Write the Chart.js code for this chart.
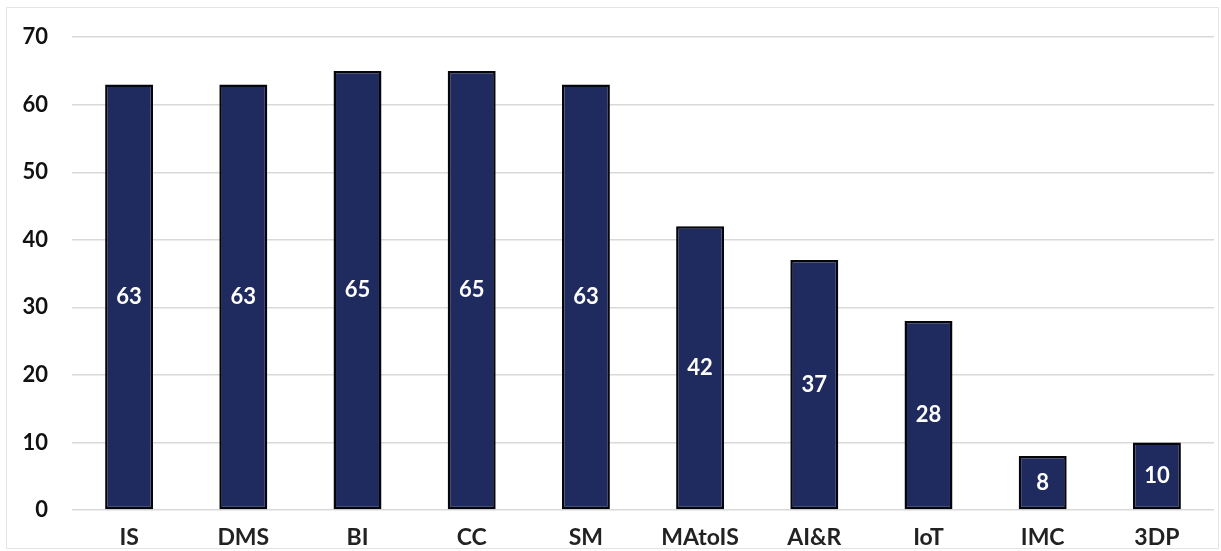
<!DOCTYPE html>
<html lang="en">
<head>
    <meta charset="UTF-8">
    <title>Bar chart</title>
    <style>
        html, body { margin: 0; padding: 0; background: #fff; }
        .wrap { position: relative; width: 1221px; height: 551px; }
        .frame { position: absolute; left: 6px; top: 7px; right: 2px; bottom: 2px; border: 1px solid #e4e4e4; pointer-events: none; }
    </style>
</head>
<body>
    <div class="wrap">
        <canvas id="myChart" width="1221" height="551"></canvas>
        <div class="frame"></div>
    </div>

    <script src="https://cdn.jsdelivr.net/npm/chart.js@4.4.0/dist/chart.umd.min.js"></script>
    <script>
        var categories = ['IS', 'DMS', 'BI', 'CC', 'SM', 'MAtoIS', 'AI&R', 'IoT', 'IMC', '3DP'];
        var values = [63, 63, 65, 65, 63, 42, 37, 28, 8, 10];
        var yTicks = [0, 10, 20, 30, 40, 50, 60, 70];

        var fontFamily = 'Lato, "Open Sans", sans-serif';

        // white value labels in the middle of each bar
        var barLabels = {
            id: 'barLabels',
            afterDatasetsDraw: function (chart) {
                var ctx = chart.ctx;
                var meta = chart.getDatasetMeta(0);
                ctx.save();
                ctx.fillStyle = '#ffffff';
                ctx.font = 'bold 22px ' + fontFamily;
                ctx.textAlign = 'center';
                ctx.textBaseline = 'middle';
                meta.data.forEach(function (bar, i) {
                    var mid = (bar.y + bar.base) / 2;
                    ctx.fillText(String(values[i]), bar.x, mid);
                });
                ctx.restore();
            }
        };

        function createChart() {
            var ctx = document.getElementById('myChart').getContext('2d');
            new Chart(ctx, {
                type: 'bar',
                data: {
                    labels: categories,
                    datasets: [{
                        data: values,
                        backgroundColor: '#1f2a5e',
                        borderColor: '#05050c',
                        borderWidth: 2.5,
                        borderSkipped: false,
                        barPercentage: 0.42,
                        categoryPercentage: 1.0
                    }]
                },
                options: {
                    responsive: false,
                    animation: false,
                    layout: { padding: { left: 10, right: 7, top: 17, bottom: 4 } },
                    plugins: {
                        legend: { display: false },
                        tooltip: { enabled: false }
                    },
                    scales: {
                        x: {
                            grid: { display: false },
                            border: { display: false },
                            ticks: {
                                color: '#222',
                                font: { family: fontFamily, size: 23, weight: 'bold' },
                                padding: 6
                            },
                            afterFit: function (scale) { scale.height = 37; }
                        },
                        y: {
                            min: 0,
                            max: 70,
                            afterBuildTicks: function (scale) {
                                scale.ticks = yTicks.map(function (v) { return { value: v }; });
                            },
                            grid: { color: '#d9d9d9', lineWidth: 1.5, drawTicks: false },
                            border: { display: false },
                            ticks: {
                                color: '#111',
                                font: { family: fontFamily, size: 22, weight: 'bold' },
                                padding: 24
                            },
                            afterFit: function (scale) { scale.width = 62; }
                        }
                    }
                },
                plugins: [barLabels]
            });
        }

        createChart();
    </script>
</body>
</html>
